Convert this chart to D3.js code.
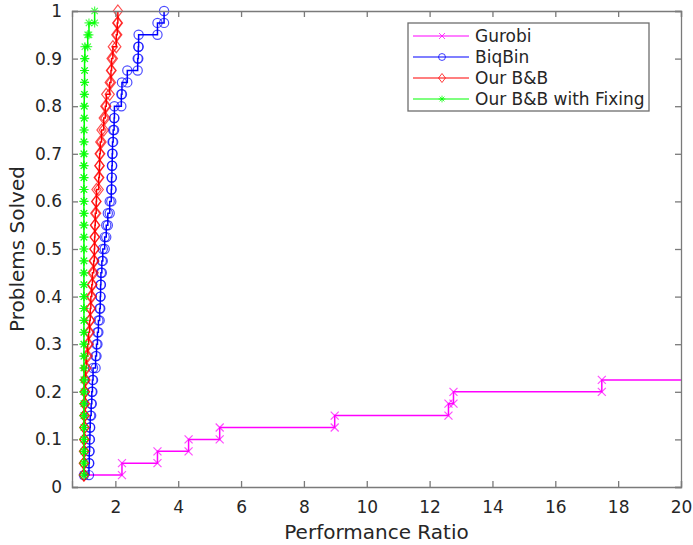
<!DOCTYPE html>
<html>
<head>
<meta charset="utf-8">
<script src="https://cdn.jsdelivr.net/npm/d3@7"></script>
<style>
    body { margin: 0; background: #fff; }
    svg { font-family: "DejaVu Sans", sans-serif; }
</style>
</head>
<body>
<div id="chart"></div>
<script>
// number of test problems (each step is 1/40)
var nProblems = 40;

// performance ratio at which the k-th problem is solved (k = 1..n)
var gurobi = [1.0, 2.21, 3.34, 4.33, 5.32, 8.98, 12.6, 12.76, 17.48];
var biqbin = [1.0, 1.16, 1.17, 1.18, 1.19, 1.2, 1.23, 1.25, 1.27, 1.29,
              1.37, 1.4, 1.43, 1.46, 1.5, 1.52, 1.53, 1.54, 1.57, 1.6,
              1.66, 1.71, 1.76, 1.82, 1.87, 1.88, 1.89, 1.9, 1.91, 1.93,
              1.96, 1.97, 2.19, 2.21, 2.38, 2.71, 2.73, 2.74, 3.34, 3.55];
var ourBB = [1.0, 1.0, 1.0, 1.01, 1.01, 1.02, 1.02, 1.03, 1.03, 1.05,
             1.08, 1.12, 1.15, 1.18, 1.2, 1.22, 1.25, 1.27, 1.31, 1.33,
             1.34, 1.35, 1.36, 1.39, 1.4, 1.47, 1.49, 1.5, 1.52, 1.56,
             1.63, 1.68, 1.71, 1.82, 1.86, 1.88, 1.92, 2.03, 2.06, 2.08];
var ourBBFix = [1.0, 1.0, 1.0, 1.0, 1.0, 1.0, 1.0, 1.0, 1.0, 1.0,
                1.0, 1.0, 1.0, 1.0, 1.0, 1.0, 1.0, 1.0, 1.0, 1.0,
                1.0, 1.0, 1.0, 1.0, 1.0, 1.0, 1.0, 1.0, 1.0, 1.0,
                1.01, 1.01, 1.01, 1.02, 1.02, 1.02, 1.03, 1.12, 1.16, 1.34];

var seriesNames = ["Gurobi", "BiqBin", "Our B&B", "Our B&B with Fixing"];
var xTicks = [2, 4, 6, 8, 10, 12, 14, 16, 18, 20];
var yTicks = [0, 0.1, 0.2, 0.3, 0.4, 0.5, 0.6, 0.7, 0.8, 0.9, 1];

var series = [
    {name: seriesNames[0], values: gurobi, color: "#ff00ff", marker: "x", extend: true},
    {name: seriesNames[1], values: biqbin, color: "#0000ff", marker: "o"},
    {name: seriesNames[2], values: ourBB, color: "#ff0000", marker: "d"},
    {name: seriesNames[3], values: ourBBFix, color: "#00ff00", marker: "*"}
];

var width = 693, height = 545;
var margin = {top: 11, right: 12, bottom: 58, left: 72};
var w = width - margin.left - margin.right;
var h = height - margin.top - margin.bottom;
var axisColor = "#7a7a7a";
var textColor = "#262626";

var x = d3.scaleLinear().domain([0.62, 20]).range([0, w]);
var y = d3.scaleLinear().domain([0, 1]).range([h, 0]);

var svg = d3.select("#chart").append("svg")
        .attr("width", width)
        .attr("height", height);
var g = svg.append("g")
        .attr("transform", "translate(" + margin.left + "," + margin.top + ")");

// marker shapes
function markerPath(type) {
    if (type === "x") return "M-4,-4L4,4M-4,4L4,-4";
    if (type === "o") return "M4.6,0A4.6,4.6 0 1,1 -4.6,0A4.6,4.6 0 1,1 4.6,0Z";
    if (type === "d") return "M0,-6L4.6,0L0,6L-4.6,0Z";
    return "M0,-4.5L0,4.5M-4.5,0L4.5,0M-3.2,-3.2L3.2,3.2M-3.2,3.2L3.2,-3.2";
}

g.append("defs").append("clipPath").attr("id", "plotclip")
    .append("rect").attr("x", 0).attr("y", -7).attr("width", w).attr("height", h + 7);

var plot = g.append("g").attr("clip-path", "url(#plotclip)");

series.forEach(function(s) {
    var pts = s.values.map(function(v, i) { return [v, (i + 1) / nProblems]; });
    var corners = [];
    pts.forEach(function(p, i) {
        corners.push(p);
        if (i < pts.length - 1) corners.push([pts[i + 1][0], p[1]]);
    });
    var linePts = pts.slice();
    if (s.extend) linePts.push([20, pts[pts.length - 1][1]]);

    plot.append("path")
        .datum(linePts)
        .attr("fill", "none")
        .attr("stroke", s.color)
        .attr("stroke-width", 1.5)
        .attr("d", d3.line()
            .x(function(d) { return x(d[0]); })
            .y(function(d) { return y(d[1]); })
            .curve(d3.curveStepAfter));

    plot.selectAll(null)
        .data(corners)
        .enter().append("path")
        .attr("transform", function(d) { return "translate(" + x(d[0]) + "," + y(d[1]) + ")"; })
        .attr("d", markerPath(s.marker))
        .attr("fill", "none")
        .attr("stroke", s.color)
        .attr("stroke-opacity", 0.7)
        .attr("stroke-width", 1.2);
});

// axes (ticks point inward, box on)
var xAxis = g.append("g")
    .attr("transform", "translate(0," + h + ")")
    .call(d3.axisBottom(x).tickValues(xTicks).tickSize(-6).tickPadding(14).tickFormat(d3.format("d")));
var xTop = g.append("g")
    .call(d3.axisTop(x).tickValues(xTicks).tickSize(-6).tickFormat(""));
var yAxis = g.append("g")
    .call(d3.axisLeft(y).tickValues(yTicks).tickSize(-6).tickPadding(10).tickFormat(function(d) { return d3.format("")(+d.toFixed(1)); }));
var yRight = g.append("g")
    .attr("transform", "translate(" + w + ",0)")
    .call(d3.axisRight(y).tickValues(yTicks).tickSize(-6).tickFormat(""));

[xAxis, xTop, yAxis, yRight].forEach(function(a) {
    a.select(".domain").attr("stroke", axisColor).attr("stroke-width", 1.3);
    a.selectAll(".tick line").attr("stroke", axisColor).attr("stroke-width", 1.3);
    a.selectAll("text").attr("fill", textColor).style("font-size", "17px")
        .style("font-family", "DejaVu Sans, sans-serif");
});

// axis labels
svg.append("text")
    .attr("x", margin.left + w / 2)
    .attr("y", 539)
    .attr("text-anchor", "middle")
    .attr("fill", textColor)
    .style("font-size", "20px")
    .text("Performance Ratio");

svg.append("text")
    .attr("transform", "translate(24," + (margin.top + h / 2) + ") rotate(-90)")
    .attr("text-anchor", "middle")
    .attr("fill", textColor)
    .style("font-size", "20px")
    .text("Problems Solved");

// legend
var legend = svg.append("g").attr("transform", "translate(408,23)");
legend.append("rect")
    .attr("width", 241).attr("height", 88)
    .attr("fill", "#fff")
    .attr("stroke", "#6e6e6e").attr("stroke-width", 1.3);

series.forEach(function(s, i) {
    var ly = 13 + i * 21;
    legend.append("line")
        .attr("x1", 5).attr("x2", 61).attr("y1", ly).attr("y2", ly)
        .attr("stroke", s.color).attr("stroke-width", 1.2);
    legend.append("path")
        .attr("transform", "translate(34," + ly + ") scale(0.75)")
        .attr("d", markerPath(s.marker))
        .attr("fill", "none").attr("stroke", s.color).attr("stroke-width", 1);
    legend.append("text")
        .attr("x", 67).attr("y", ly)
        .attr("dy", "0.36em")
        .attr("fill", textColor)
        .style("font-size", "17px")
        .text(s.name);
});
</script>
</body>
</html>
